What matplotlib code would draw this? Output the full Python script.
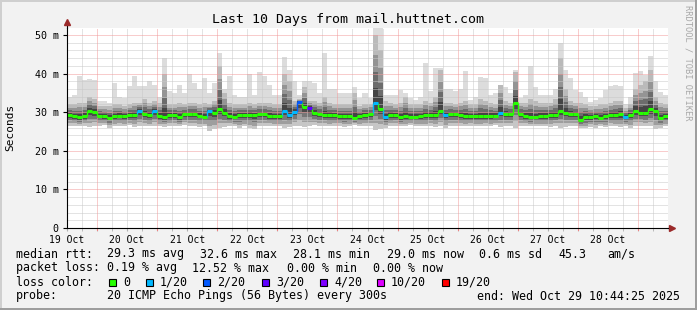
import numpy as np
import matplotlib.pyplot as plt
from matplotlib.patches import Rectangle

# --- data: 120 bins of 2 h, starting 19 Oct ~noon ---
day_labels = ["19 Oct", "20 Oct", "21 Oct", "22 Oct", "23 Oct",
              "24 Oct", "25 Oct", "26 Oct", "27 Oct", "28 Oct"]
y_ticks = [0, 10, 20, 30, 40, 50]
y_tick_labels = ["0", "10 m", "20 m", "30 m", "40 m", "50 m"]

# slowest ping per bin (top of light smoke), ms
rtt_max = np.array([
    34.0, 34.5, 39.4, 38.4, 38.6, 38.4, 33.0, 33.0, 32.4, 37.5, 34.0, 33.6, 36.7, 39.3, 36.7, 36.7, 38.1, 37.0, 34.0, 44.0,
    35.5, 35.0, 37.0, 35.0, 40.0, 37.5, 36.0, 38.9, 35.0, 37.5, 45.3, 36.0, 39.4, 34.5, 34.0, 34.0, 39.8, 34.5, 40.4, 39.4,
    37.0, 34.5, 34.5, 44.3, 41.0, 38.0, 34.5, 38.0, 38.0, 37.5, 35.0, 45.3, 36.0, 36.0, 35.0, 35.0, 35.0, 36.5, 33.6, 35.0,
    33.6, 52.0, 52.0, 34.5, 34.5, 34.5, 35.8, 35.0, 33.6, 33.2, 34.0, 42.7, 35.5, 41.4, 41.4, 36.0, 36.0, 35.5, 36.0, 40.7,
    33.2, 34.0, 39.1, 38.9, 34.5, 35.0, 37.0, 36.5, 35.0, 40.9, 33.6, 34.5, 42.0, 36.5, 34.5, 34.5, 34.5, 36.0, 48.0, 41.0,
    38.9, 35.8, 35.3, 34.0, 32.7, 33.2, 33.6, 35.8, 36.7, 37.1, 36.7, 32.1, 34.0, 40.2, 40.6, 39.5, 44.6, 38.0, 35.3, 34.5])

# top of the dark part of the smoke, ms
rtt_upper = np.array([
    32.0, 32.0, 32.5, 32.5, 34.0, 33.5, 31.5, 31.5, 31.5, 32.0, 32.0, 31.5, 32.0, 32.5, 32.5, 33.5, 32.5, 33.0, 32.5, 40.0,
    32.0, 32.0, 32.5, 32.0, 32.5, 32.5, 32.0, 32.5, 32.0, 33.0, 42.0, 35.0, 32.5, 32.0, 32.0, 32.0, 32.5, 32.0, 32.5, 32.5,
    32.5, 32.0, 32.0, 40.0, 38.0, 33.0, 33.5, 36.5, 33.0, 33.0, 32.5, 34.0, 32.5, 32.0, 32.0, 32.0, 32.0, 35.0, 31.5, 32.0,
    32.0, 50.0, 46.0, 33.0, 32.5, 32.0, 32.5, 34.0, 32.0, 32.0, 32.0, 33.0, 32.5, 34.0, 41.0, 32.5, 32.5, 32.0, 32.5, 33.0,
    32.0, 32.0, 33.5, 33.0, 32.5, 32.0, 37.0, 33.0, 32.5, 40.5, 32.5, 32.5, 33.5, 33.0, 32.5, 32.5, 32.5, 33.5, 44.0, 36.0,
    33.0, 32.5, 32.5, 32.0, 31.5, 31.5, 32.0, 32.0, 32.5, 33.0, 33.0, 31.0, 32.0, 36.0, 37.0, 38.0, 41.0, 34.0, 32.5, 32.0])

# fastest ping per bin, ms
rtt_min = np.array([
    26.5, 26.5, 26.3, 26.5, 26.2, 26.5, 26.4, 26.6, 26.0, 26.3, 26.5, 26.4, 26.6, 26.2, 26.5, 26.4, 26.3, 26.5, 26.4, 26.2,
    26.4, 26.5, 26.3, 26.6, 26.4, 26.3, 26.2, 26.5, 25.0, 25.6, 26.0, 26.2, 26.5, 26.4, 25.9, 26.3, 26.0, 25.6, 26.4, 26.3,
    26.5, 26.4, 26.3, 26.0, 26.2, 26.4, 26.5, 26.2, 26.3, 26.6, 26.4, 26.5, 26.3, 26.4, 26.5, 26.2, 26.4, 26.6, 26.3, 26.4,
    26.4, 25.4, 25.6, 26.0, 26.4, 26.5, 26.3, 26.4, 26.6, 26.5, 26.4, 26.3, 26.5, 26.2, 26.4, 26.0, 26.3, 26.5, 26.4, 26.3,
    26.5, 26.4, 26.3, 26.5, 26.4, 26.6, 26.2, 26.4, 26.5, 26.0, 26.3, 26.5, 26.4, 26.5, 26.3, 26.4, 26.2, 26.5, 26.0, 26.2,
    26.4, 26.5, 26.0, 25.8, 26.2, 26.0, 26.3, 26.1, 26.4, 26.3, 26.2, 26.4, 26.0, 26.3, 26.5, 26.3, 26.4, 25.6, 26.0, 26.3])

# median rtt, ms
rtt_median = np.array([
    29.2, 28.9, 28.7, 28.9, 30.4, 30.0, 29.1, 28.9, 28.5, 28.9, 29.0, 29.0, 29.2, 29.2, 30.2, 29.4, 29.3, 30.2, 28.9, 28.7,
    29.2, 29.2, 28.7, 29.5, 29.4, 29.4, 29.1, 28.7, 30.2, 29.8, 30.7, 29.8, 28.9, 28.7, 29.2, 29.2, 29.2, 29.2, 29.5, 29.5,
    28.9, 28.9, 28.9, 30.2, 29.2, 30.1, 32.6, 31.3, 31.1, 29.8, 29.5, 29.2, 29.2, 29.2, 28.9, 28.9, 28.9, 28.5, 28.9, 29.2,
    29.5, 32.4, 30.8, 28.7, 29.2, 29.2, 28.7, 28.9, 28.7, 28.7, 28.9, 29.2, 29.2, 29.2, 30.4, 29.2, 29.5, 29.4, 29.2, 28.9,
    28.9, 28.9, 28.9, 28.9, 29.0, 29.0, 29.8, 29.5, 29.4, 32.4, 29.5, 28.9, 28.7, 28.7, 28.9, 28.9, 29.2, 29.2, 30.4, 29.8,
    29.5, 29.5, 28.1, 28.7, 28.7, 28.9, 28.5, 28.9, 29.2, 29.2, 29.4, 28.7, 29.2, 30.4, 29.8, 29.8, 30.7, 30.2, 28.5, 28.9])

# lost pings out of 20
loss = np.array([
    0, 0, 0, 0, 0, 0, 0, 0, 0, 0, 0, 0, 0, 0, 1, 0, 0, 1, 0, 0,
    0, 0, 0, 0, 0, 0, 0, 0, 1, 0, 0, 0, 0, 0, 0, 0, 0, 0, 0, 0,
    0, 0, 0, 1, 1, 1, 2, 0, 3, 0, 0, 0, 0, 0, 0, 0, 0, 0, 0, 0,
    0, 1, 0, 1, 0, 0, 0, 0, 0, 0, 0, 0, 0, 0, 0, 1, 0, 0, 0, 0,
    0, 0, 0, 0, 0, 0, 1, 0, 0, 0, 0, 0, 0, 0, 0, 0, 0, 0, 0, 0,
    0, 0, 0, 0, 0, 0, 0, 0, 0, 0, 0, 1, 0, 0, 0, 0, 0, 0, 0, 0])

loss_steps = [0, 1, 2, 3, 4, 10, 19]
loss_names = ["0", "1/20", "2/20", "3/20", "4/20", "10/20", "19/20"]
loss_colors = ["#26ff00", "#00b8ff", "#0059ff", "#5e00ff", "#7e00ff", "#dd00ff", "#ff0000"]

stats_rtt = ["29.3 ms avg", "32.6 ms max", "28.1 ms min", "29.0 ms now", "0.6 ms sd", "45.3", "am/s"]
stats_loss = ["0.19 % avg", "12.52 % max", "0.00 % min", "0.00 % now"]
title = "Last 10 Days from mail.huttnet.com"
probe = "20 ICMP Echo Pings (56 Bytes) every 300s"
end_text = "end: Wed Oct 29 10:44:25 2025"

# ---------------------------------------------------------------
W, H = 697, 310
mono = "DejaVu Sans Mono"
plt.rcParams["font.family"] = mono


def fx(x):
    return x / W


def fy(y):
    return 1 - y / H


fig = plt.figure(figsize=(W / 100, H / 100), dpi=100)
fig.patch.set_facecolor("#f2f2f2")
# 3d frame like rrdtool
fig.patches.append(Rectangle((0, fy(2)), 1, 2 / H, transform=fig.transFigure, color="#cfcfcf", lw=0))
fig.patches.append(Rectangle((0, 0), 2 / W, 1, transform=fig.transFigure, color="#cfcfcf", lw=0))
fig.patches.append(Rectangle((0, 0), 1, 2 / H, transform=fig.transFigure, color="#9e9e9e", lw=0))
fig.patches.append(Rectangle((fx(W - 2), 0), 2 / W, 1, transform=fig.transFigure, color="#9e9e9e", lw=0))

ax = fig.add_axes([fx(67), fy(228), 601 / W, 200 / H])
ax.set_facecolor("white")

n = len(rtt_median)
edges = np.linspace(0, 10, n + 1)
xs = np.repeat(edges, 2)[1:-1]


def st(v):
    return np.repeat(v, 2)


# smoke: light envelope, then darker shades towards the median
ax.fill_between(xs, st(rtt_min), st(rtt_max), color="#dcdcdc", lw=0, zorder=1)
for frac, col in [(1.0, "#bababa"), (0.7, "#949494"), (0.45, "#6c6c6c"), (0.22, "#444444")]:
    top = rtt_median + frac * (rtt_upper - rtt_median)
    ax.fill_between(xs, st(rtt_median), st(top), color=col, lw=0, zorder=1)
for frac, col in [(1.0, "#c6c6c6"), (0.75, "#9e9e9e"), (0.5, "#767676"), (0.25, "#4a4a4a")]:
    bot = rtt_median - frac * (rtt_median - rtt_min)
    ax.fill_between(xs, st(bot), st(rtt_median), color=col, lw=0, zorder=1)

# grid drawn over the smoke
for x in np.arange(0.25, 10, 0.25):
    if abs((x - 0.5) % 1) > 1e-6:
        ax.axvline(x, color="#c8c8c8", lw=0.72, ls=(0, (1, 1)), zorder=2)
for y in np.arange(2, 52, 2):
    if y % 10:
        ax.axhline(y, color="#c8c8c8", lw=0.72, ls=(0, (1, 1)), zorder=2)
for x in np.arange(0.5, 10, 1):
    ax.axvline(x, color="#f29a9a", lw=0.72, ls=(0, (1, 1)), zorder=2)
for y in y_ticks[1:]:
    ax.axhline(y, color="#f29a9a", lw=0.72, ls=(0, (1, 1)), zorder=2)

# median line coloured by loss
idx = np.searchsorted(loss_steps, loss, side="right") - 1
cols = [loss_colors[i] for i in idx]
ax.vlines(edges[1:-1], rtt_median[:-1], rtt_median[1:], colors=cols[1:], lw=1.0, zorder=3)
ax.hlines(rtt_median, edges[:-1], edges[1:], colors=cols, lw=2.2, zorder=4)

ax.set_xlim(0, 10)
ax.set_ylim(0, 51.8)
ax.set_xticks(range(len(day_labels)), day_labels)
ax.set_xticks(np.arange(0.25, 10, 0.25), minor=True)
ax.set_yticks(y_ticks, y_tick_labels)
ax.tick_params(axis="x", which="both", length=2, color="#b0b0b0", pad=3, labelsize=7)
ax.tick_params(axis="y", length=3, width=0.8, color="black", pad=3, labelsize=7.2)
for x in np.arange(0.5, 10, 1):
    ax.plot([x, x], [-0.012, 0], color="#f08080", lw=0.8, transform=ax.get_xaxis_transform(), clip_on=False)

for s in ["top", "right"]:
    ax.spines[s].set_visible(False)
for s in ["left", "bottom"]:
    ax.spines[s].set_linewidth(0.8)
    ax.spines[s].set_zorder(5)
ax.plot([0, 0], [1, 1.03], color="black", lw=0.8, transform=ax.transAxes, clip_on=False)
ax.plot([0], [1.03], marker="^", color="#9b2a2a", ms=4.5, transform=ax.transAxes, clip_on=False)
ax.plot([1, 1.007], [0, 0], color="black", lw=0.8, transform=ax.transAxes, clip_on=False)
ax.plot([1.007], [0], marker=">", color="#9b2a2a", ms=4.5, transform=ax.transAxes, clip_on=False)

# --- texts ---
fig.text(fx(348), fy(19), title, ha="center", va="center", fontsize=9.5)
fig.text(fx(10), fy(127), "Seconds", rotation=90, ha="center", va="center", fontsize=8)
fig.text(fx(688), fy(5), "RRDTOOL / TOBI OETIKER", rotation=270, ha="center", va="top",
         fontsize=6.3, color="#a8a8a8")

fs = 8.4
fig.text(fx(16), fy(254), "median rtt:", va="center", fontsize=fs)
for x, s in zip([107, 200, 293, 387, 479, 558, 607], stats_rtt):
    fig.text(fx(x), fy(254), s, va="center", fontsize=fs)
fig.text(fx(16), fy(268), "packet loss:", va="center", fontsize=fs)
for x, s in zip([107, 192, 287, 373], stats_loss):
    fig.text(fx(x), fy(268), s, va="center", fontsize=fs)
fig.text(fx(16), fy(282), "loss color:", va="center", fontsize=fs)
for x, name, col in zip([109, 146, 203, 262, 320, 377, 442], loss_names, loss_colors):
    fig.patches.append(Rectangle((fx(x), fy(286)), 7 / W, 7 / H, transform=fig.transFigure,
                                 facecolor=col, edgecolor="black", lw=0.8))
    fig.text(fx(x + 14), fy(282), name, va="center", fontsize=fs)
fig.text(fx(16), fy(296), "probe:", va="center", fontsize=fs)
fig.text(fx(107), fy(296), probe, va="center", fontsize=fs)
fig.text(fx(680), fy(296), end_text, ha="right", va="center", fontsize=fs)

fig.savefig("out.png", dpi=100, facecolor=fig.get_facecolor())
